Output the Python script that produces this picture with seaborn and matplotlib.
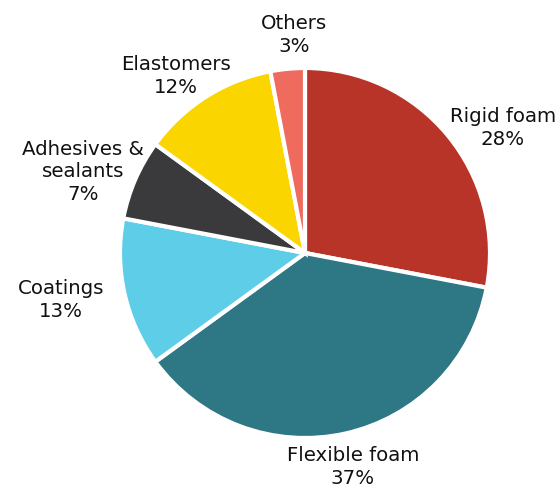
import matplotlib
matplotlib.use("Agg")
import matplotlib.pyplot as plt
import seaborn as sns

sns.set_theme(style="white")
plt.rcParams['font.family'] = ['DejaVu Sans']

categories = ["Rigid foam", "Flexible foam", "Coatings", "Adhesives &\nsealants", "Elastomers", "Others"]
values = [28, 37, 13, 7, 12, 3]
colors = ["#B83328", "#2E7785", "#5ECDE8", "#3A3A3C", "#FBD500", "#EE6B5E"]
label_pos = [(1.07, 0.676), (0.259, -1.157), (-1.319, -0.254), (-1.2, 0.438), (-0.697, 0.957), (-0.059, 1.178)]

fig = plt.figure(figsize=(5.6, 4.91), dpi=100)
W, H = 560, 491
cx, cy, r = 305, 253, 185
ax = fig.add_axes([(cx - r) / W, (H - cy - r) / H, 2 * r / W, 2 * r / H])
ax.pie(values, colors=colors, startangle=90, counterclock=False, radius=1,
       wedgeprops=dict(edgecolor="white", linewidth=3))
for cat, v, (x, y) in zip(categories, values, label_pos):
    ax.text(x, y, f"{cat}\n{v}%", ha="center", va="center", fontsize=14.2,
            color="#111111", linespacing=1.25)
ax.set_xlim(-1, 1)
ax.set_ylim(-1, 1)
ax.set_aspect("equal")
ax.axis("off")
fig.savefig("out.png", dpi=100)
